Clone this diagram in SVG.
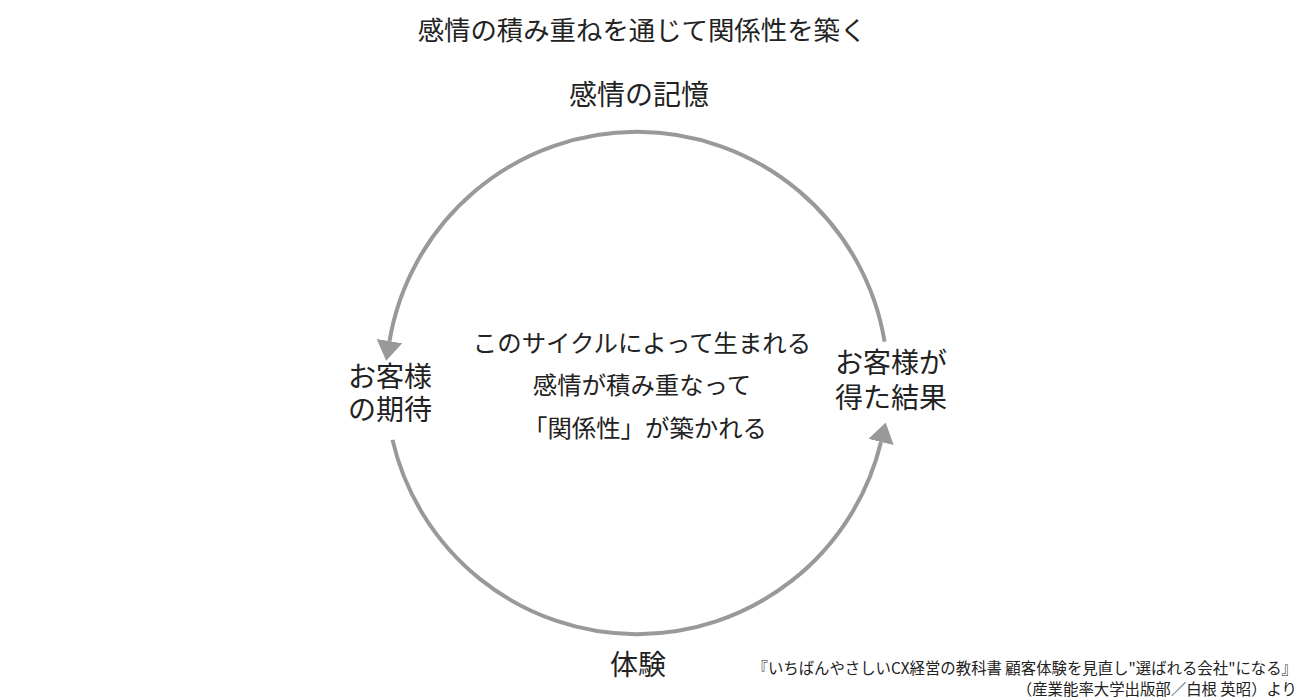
<svg xmlns="http://www.w3.org/2000/svg" width="1300" height="700" viewBox="0 0 1300 700">
<style>
text{font-family:"Noto Sans CJK JP","Noto Sans",sans-serif;fill:#222;}
.title{font-size:26.4px;text-anchor:middle;}
.lbl{font-size:28px;text-anchor:middle;}
.ctr{font-size:24.4px;text-anchor:middle;}
.src{font-size:15.4px;text-anchor:end;}
.arc{fill:none;stroke:#999;stroke-width:4;}
</style>
<defs>
<marker id="ah" viewBox="0 0 20 26" refX="0" refY="13" markerWidth="20" markerHeight="26" markerUnits="userSpaceOnUse" orient="auto">
<path d="M0,0 L20,13 L0,26 z" fill="#999"/>
</marker>
</defs>
<rect width="1300" height="700" fill="#fff"/>
<g id="title"><text class="title" x="642" y="40">感情の積み重ねを通じて関係性を築く</text></g>
<g id="connectors">
<path class="arc" d="M884.6,341.6 A251,251 0 0 0 389.5,341.1" marker-end="url(#ah)"/>
<path class="arc" d="M392.5,439.9 A251,251 0 0 0 881,442" marker-end="url(#ah)"/>
</g>
<g id="node-memory"><text class="lbl" x="639" y="105">感情の記憶</text></g>
<g id="node-expectation"><text class="lbl" x="390" y="387">お客様</text><text class="lbl" x="390" y="420">の期待</text></g>
<g id="node-result"><text class="lbl" x="891" y="373">お客様が</text><text class="lbl" x="891" y="408">得た結果</text></g>
<g id="node-experience"><text class="lbl" x="638" y="675">体験</text></g>
<g id="center"><text class="ctr" x="642" y="352">このサイクルによって生まれる</text><text class="ctr" x="642" y="394">感情が積み重なって</text><text class="ctr" x="645" y="437">「関係性」が築かれる</text></g>
<g id="source"><text class="src" x="1297" y="674">『いちばんやさしいCX経営の教科書 顧客体験を見直し"選ばれる会社"になる』</text><text class="src" x="1297" y="695">（産業能率大学出版部／白根 英昭）より</text></g>
</svg>
